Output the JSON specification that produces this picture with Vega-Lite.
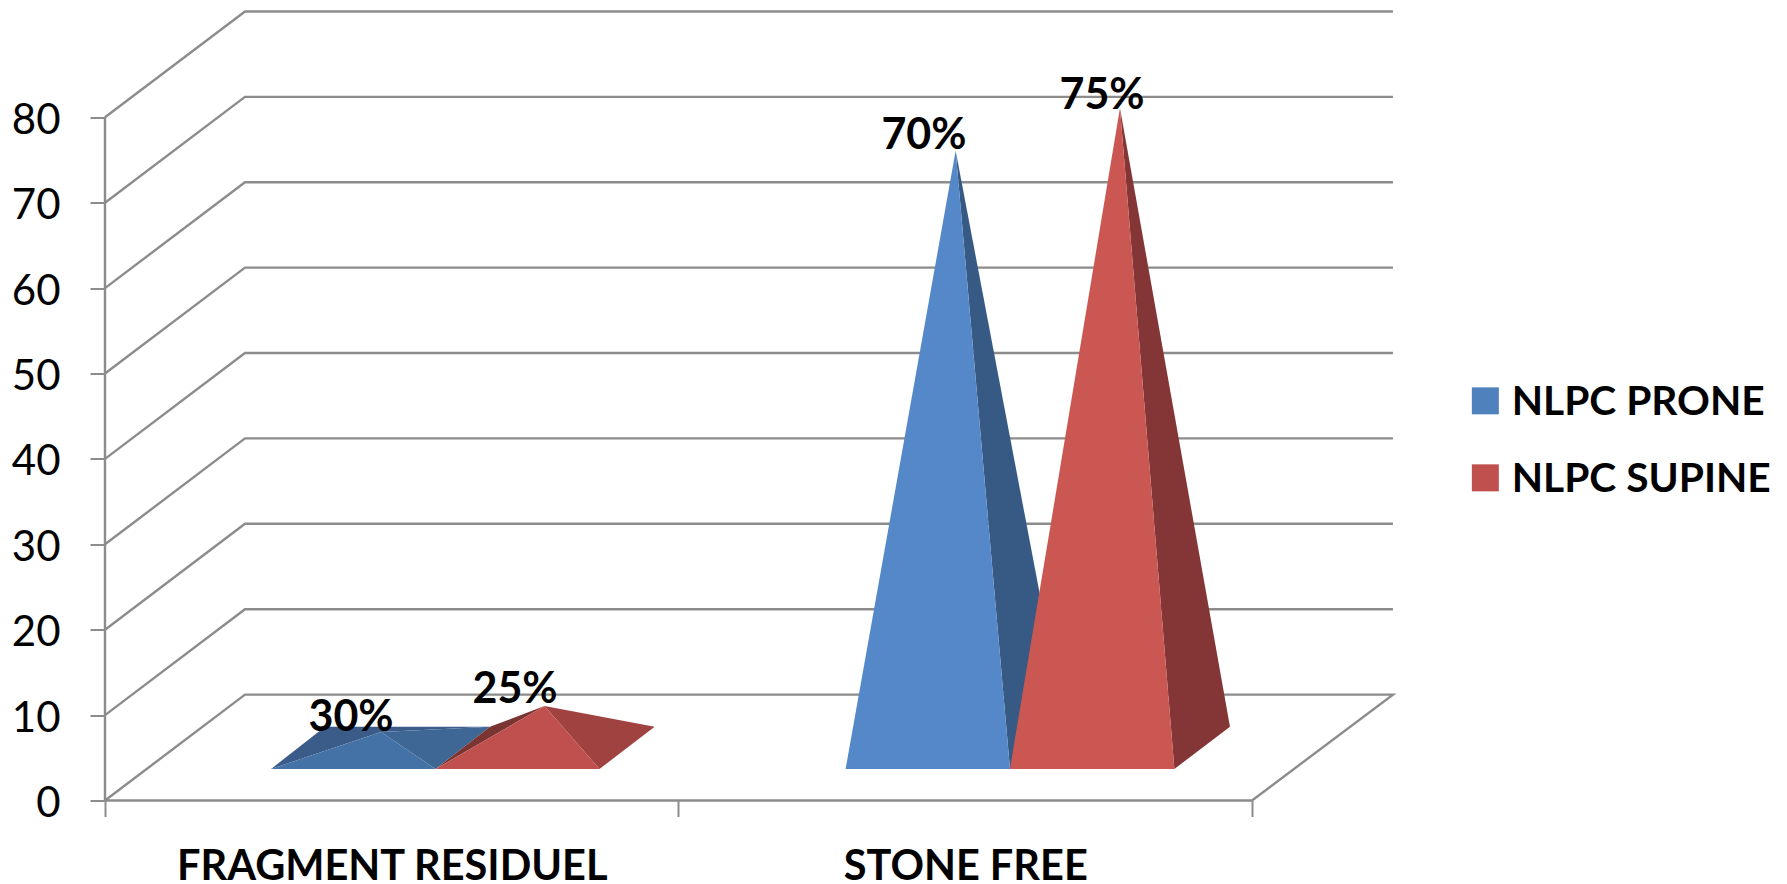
{
  "$schema": "https://vega.github.io/schema/vega-lite/v6.json",
  "width": 1682,
  "height": 800,
  "autosize": {"type": "none"},
  "padding": {"left": 105, "top": 0.5, "right": 0, "bottom": 83.5},
  "background": "white",
  "config": {"view": {"stroke": null}, "font": "Lato"},
  "datasets": {
    "frame": [
      {"line": "axis", "step": 0, "x": 0, "y": 0},
      {"line": "axis", "step": 1, "x": 0, "y": 80},
      {"line": "floor", "step": 0, "x": 0, "y": 0},
      {"line": "floor", "step": 1, "x": 0.2441, "y": 12.4},
      {"line": "floor", "step": 2, "x": 2.2458, "y": 12.4},
      {"line": "floor", "step": 3, "x": 2.0, "y": 0},
      {"line": "floor", "step": 4, "x": 0, "y": 0},
      {"line": "g10", "step": 0, "x": 0, "y": 10},
      {"line": "g10", "step": 1, "x": 0.2441, "y": 22.4},
      {"line": "g10", "step": 2, "x": 2.2458, "y": 22.4},
      {"line": "g20", "step": 0, "x": 0, "y": 20},
      {"line": "g20", "step": 1, "x": 0.2441, "y": 32.4},
      {"line": "g20", "step": 2, "x": 2.2458, "y": 32.4},
      {"line": "g30", "step": 0, "x": 0, "y": 30},
      {"line": "g30", "step": 1, "x": 0.2441, "y": 42.4},
      {"line": "g30", "step": 2, "x": 2.2458, "y": 42.4},
      {"line": "g40", "step": 0, "x": 0, "y": 40},
      {"line": "g40", "step": 1, "x": 0.2441, "y": 52.4},
      {"line": "g40", "step": 2, "x": 2.2458, "y": 52.4},
      {"line": "g50", "step": 0, "x": 0, "y": 50},
      {"line": "g50", "step": 1, "x": 0.2441, "y": 62.4},
      {"line": "g50", "step": 2, "x": 2.2458, "y": 62.4},
      {"line": "g60", "step": 0, "x": 0, "y": 60},
      {"line": "g60", "step": 1, "x": 0.2441, "y": 72.4},
      {"line": "g60", "step": 2, "x": 2.2458, "y": 72.4},
      {"line": "g70", "step": 0, "x": 0, "y": 70},
      {"line": "g70", "step": 1, "x": 0.2441, "y": 82.4},
      {"line": "g70", "step": 2, "x": 2.2458, "y": 82.4},
      {"line": "g80", "step": 0, "x": 0, "y": 80},
      {"line": "g80", "step": 1, "x": 0.2441, "y": 92.4},
      {"line": "g80", "step": 2, "x": 2.2458, "y": 92.4}
    ],
    "faces": [
      {"face": "a-fr-prone-back", "shade": "frag prone back", "v": 0, "x": 0.2895, "y": 3.69},
      {"face": "a-fr-prone-back", "shade": "frag prone back", "v": 1, "x": 0.3836, "y": 8.63},
      {"face": "a-fr-prone-back", "shade": "frag prone back", "v": 2, "x": 0.6713, "y": 8.63},
      {"face": "a-fr-prone-back", "shade": "frag prone back", "v": 3, "x": 0.4813, "y": 8.02},
      {"face": "b-fr-prone-right", "shade": "frag prone right", "v": 0, "x": 0.4813, "y": 8.02},
      {"face": "b-fr-prone-right", "shade": "frag prone right", "v": 1, "x": 0.5763, "y": 3.69},
      {"face": "b-fr-prone-right", "shade": "frag prone right", "v": 2, "x": 0.6713, "y": 8.63},
      {"face": "c-fr-prone-front", "shade": "frag prone front", "v": 0, "x": 0.2895, "y": 3.69},
      {"face": "c-fr-prone-front", "shade": "frag prone front", "v": 1, "x": 0.5763, "y": 3.69},
      {"face": "c-fr-prone-front", "shade": "frag prone front", "v": 2, "x": 0.4813, "y": 8.02},
      {"face": "d-fr-supine-left", "shade": "frag supine left", "v": 0, "x": 0.5763, "y": 3.69},
      {"face": "d-fr-supine-left", "shade": "frag supine left", "v": 1, "x": 0.6713, "y": 8.63},
      {"face": "d-fr-supine-left", "shade": "frag supine left", "v": 2, "x": 0.7664, "y": 11.07},
      {"face": "e-fr-supine-right", "shade": "frag supine right", "v": 0, "x": 0.7664, "y": 11.07},
      {"face": "e-fr-supine-right", "shade": "frag supine right", "v": 1, "x": 0.8622, "y": 3.69},
      {"face": "e-fr-supine-right", "shade": "frag supine right", "v": 2, "x": 0.9584, "y": 8.63},
      {"face": "f-fr-supine-front", "shade": "NLPC SUPINE", "v": 0, "x": 0.5763, "y": 3.69},
      {"face": "f-fr-supine-front", "shade": "NLPC SUPINE", "v": 1, "x": 0.8622, "y": 3.69},
      {"face": "f-fr-supine-front", "shade": "NLPC SUPINE", "v": 2, "x": 0.7664, "y": 11.07},
      {"face": "g-sf-prone-right", "shade": "free prone right", "v": 0, "x": 1.4833, "y": 76.09},
      {"face": "g-sf-prone-right", "shade": "free prone right", "v": 1, "x": 1.578, "y": 3.69},
      {"face": "g-sf-prone-right", "shade": "free prone right", "v": 2, "x": 1.6739, "y": 8.63},
      {"face": "h-sf-prone-front", "shade": "free prone front", "v": 0, "x": 1.2914, "y": 3.69},
      {"face": "h-sf-prone-front", "shade": "free prone front", "v": 1, "x": 1.578, "y": 3.69},
      {"face": "h-sf-prone-front", "shade": "free prone front", "v": 2, "x": 1.4833, "y": 76.09},
      {"face": "i-sf-supine-right", "shade": "free supine right", "v": 0, "x": 1.7698, "y": 81.09},
      {"face": "i-sf-supine-right", "shade": "free supine right", "v": 1, "x": 1.8647, "y": 3.69},
      {"face": "i-sf-supine-right", "shade": "free supine right", "v": 2, "x": 1.9616, "y": 8.63},
      {"face": "j-sf-supine-front", "shade": "free supine front", "v": 0, "x": 1.578, "y": 3.69},
      {"face": "j-sf-supine-front", "shade": "free supine front", "v": 1, "x": 1.8647, "y": 3.69},
      {"face": "j-sf-supine-front", "shade": "free supine front", "v": 2, "x": 1.7698, "y": 81.09}
    ],
    "labels": [
      {"label": "30%", "x": 0.4290, "y": 9.7},
      {"label": "25%", "x": 0.7150, "y": 12.95},
      {"label": "70%", "x": 1.4280, "y": 77.85},
      {"label": "75%", "x": 1.7385, "y": 82.45}
    ]
  },
  "encoding": {
    "x": {
      "field": "x",
      "type": "quantitative",
      "scale": {"domain": [0, 2.9329], "nice": false, "zero": false},
      "axis": {
        "title": null,
        "grid": false,
        "domain": false,
        "values": [0, 0.5, 1, 1.5, 2],
        "tickSize": 16,
        "tickWidth": 2,
        "tickColor": "#8c8c8c",
        "tickOpacity": {"condition": {"test": "datum.value % 1 === 0", "value": 1}, "value": 0},
        "labelExpr": "datum.value === 0.5 ? 'FRAGMENT RESIDUEL' : datum.value === 1.5 ? 'STONE FREE' : ''",
        "labelFont": "Lato",
        "labelFontWeight": "bold",
        "labelFontSize": 41.5,
        "labelColor": "#000000",
        "labelPadding": 30,
        "labelLimit": 700,
        "labelOverlap": false,
        "labelFlush": false,
        "labelBound": false
      }
    },
    "y": {
      "field": "y",
      "type": "quantitative",
      "scale": {"domain": [0, 93.68], "nice": false, "zero": false},
      "axis": {
        "title": null,
        "grid": false,
        "domain": false,
        "values": [0, 10, 20, 30, 40, 50, 60, 70, 80],
        "tickSize": 15,
        "tickWidth": 2,
        "tickColor": "#8c8c8c",
        "labelFont": "Lato",
        "labelFontSize": 42,
        "labelColor": "#000000",
        "labelPadding": 30,
        "labelOffset": 3,
        "labelOverlap": false,
        "labelBound": false
      }
    }
  },
  "layer": [
    {
      "data": {"name": "frame"},
      "mark": {"type": "line", "color": "#8c8c8c", "strokeWidth": 2.4},
      "encoding": {
        "detail": {"field": "line"},
        "order": {"field": "step", "type": "quantitative"}
      }
    },
    {
      "data": {"name": "faces"},
      "mark": {"type": "line", "filled": true, "strokeWidth": 0},
      "encoding": {
        "detail": {"field": "face"},
        "order": {"field": "v", "type": "quantitative"},
        "color": {
          "field": "shade",
          "type": "nominal",
          "scale": {
            "domain": ["NLPC PRONE", "NLPC SUPINE", "frag prone back", "frag prone right", "frag prone front", "frag supine left", "frag supine right", "free prone right", "free prone front", "free supine right", "free supine front"],
            "range": ["#4f81bd", "#c0504d", "#3b5b88", "#3f6795", "#4472a6", "#7a3432", "#a04240", "#375a85", "#5588c8", "#843535", "#cb5753"]
          },
          "legend": {
            "values": ["NLPC PRONE", "NLPC SUPINE"],
            "title": null,
            "orient": "none",
            "legendX": 1360,
            "legendY": 380,
            "symbolType": "square",
            "symbolSize": 729,
            "symbolStrokeWidth": 0,
            "labelFont": "Lato",
            "labelFontWeight": "bold",
            "labelFontSize": 40.7,
            "labelColor": "#000000",
            "labelOffset": 6,
            "labelLimit": 320,
            "rowPadding": 34,
            "encode": {"labels": {"update": {"dy": {"value": 2}}}}
          }
        }
      }
    },
    {
      "data": {"name": "labels"},
      "mark": {"type": "text", "font": "Lato", "fontWeight": "bold", "fontSize": 43, "color": "#000000", "baseline": "middle", "align": "center"},
      "encoding": {
        "text": {"field": "label"}
      }
    }
  ]
}
